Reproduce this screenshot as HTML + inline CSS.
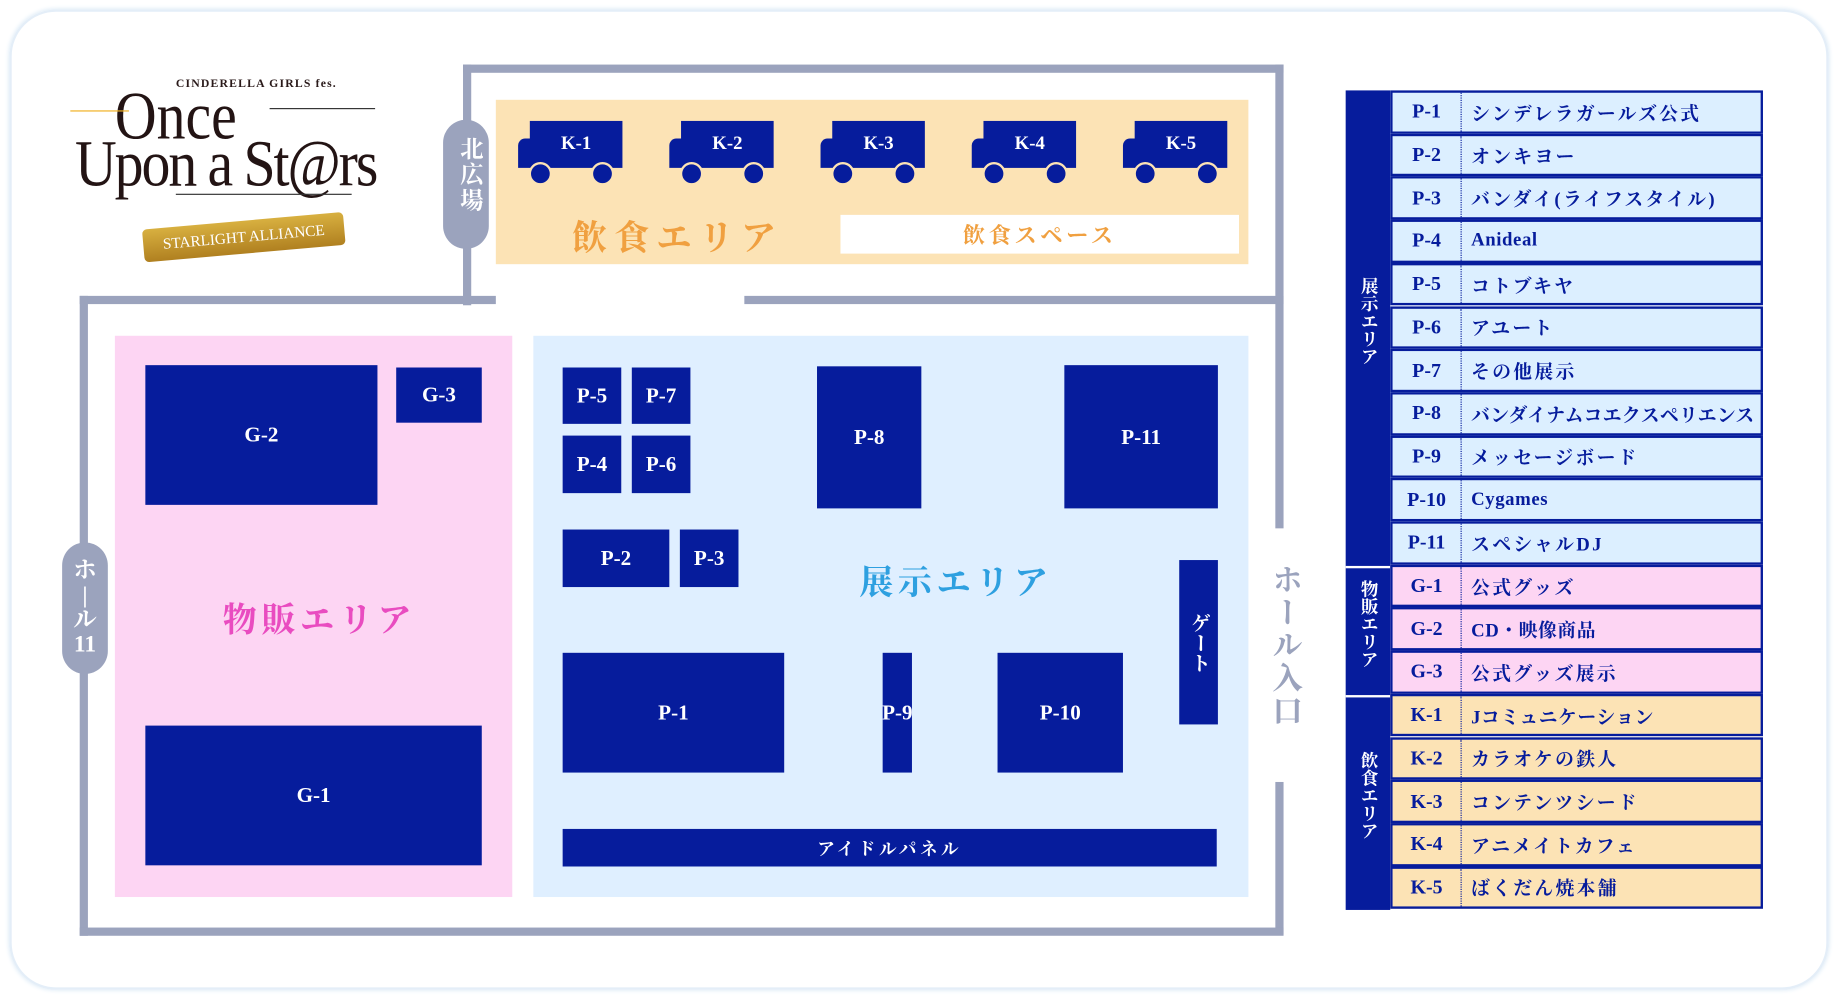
<!DOCTYPE html>
<html><head><meta charset="utf-8">
<style>
html,body{margin:0;padding:0;background:#fff;width:1838px;height:998px;overflow:hidden}
#s{position:absolute;left:0;top:0;width:1568px;height:850px;transform-origin:0 0;transform:scale(1.17219,1.17412);font-family:"Liberation Serif","Noto Serif CJK SC",serif;font-weight:bold}
.a{position:absolute;box-sizing:border-box}
.n{position:absolute;background:#061c9c;color:#fff;display:flex;align-items:center;justify-content:center;font-size:18px}
.w{position:absolute;background:#9ba3bd}
.t{position:absolute;left:1186px;width:318px;height:36.7px;border:2px solid #061c9c;box-sizing:border-box;color:#061c9c;font-size:16px;display:flex;align-items:center}
.t b{width:58px;text-align:center;border-right:1.5px dotted #061c9c;height:100%;display:flex;align-items:center;justify-content:center;font-size:17px}
.t span{padding-left:8px;letter-spacing:2px;white-space:nowrap}
.v{position:absolute;writing-mode:vertical-rl;text-orientation:upright}
</style></head><body><div id="s">
<div class="a" style="left:8px;top:8px;width:1552px;height:835px;border:2px solid #e4eef8;border-radius:40px;box-shadow:0 0 4px #d8e8f5"></div>

<!-- logo -->
<div class="a" style="left:150px;top:66px;font-size:10px;color:#2a1a1a;letter-spacing:1px">CINDERELLA GIRLS fes.</div>
<div class="a" style="left:98px;top:70px;font-family:'Liberation Serif',serif;font-weight:normal;font-size:58px;color:#231414;line-height:1;transform:scaleX(0.85);transform-origin:0 0">Once</div>
<div class="a" style="left:64px;top:112px;font-family:'Liberation Serif',serif;font-weight:normal;font-size:56px;color:#231414;line-height:1;letter-spacing:-2px;transform:scaleX(0.88);transform-origin:0 0;white-space:nowrap">Upon a St@rs</div>
<div class="a" style="left:60px;top:94px;width:50px;height:1px;background:#f0b020"></div>
<div class="a" style="left:230px;top:92px;width:90px;height:1px;background:#333"></div>
<div class="a" style="left:150px;top:165px;width:150px;height:1px;background:#333"></div>
<div class="a" style="left:122px;top:188px;width:172px;height:28px;background:linear-gradient(#d8b040,#b08020);border-radius:4px;transform:rotate(-5deg);color:#fff;font-size:13px;display:flex;align-items:center;justify-content:center;font-weight:normal">STARLIGHT ALLIANCE</div>

<!-- walls -->
<div class="w" style="left:395px;top:55px;width:700px;height:7px"></div>
<div class="w" style="left:395px;top:55px;width:7px;height:205px"></div>
<div class="w" style="left:1088px;top:55px;width:7px;height:395px"></div>
<div class="w" style="left:1088px;top:666px;width:7px;height:130px"></div>
<div class="w" style="left:68px;top:252px;width:355px;height:7px"></div>
<div class="w" style="left:635px;top:252px;width:460px;height:7px"></div>
<div class="w" style="left:68px;top:252px;width:7px;height:545px"></div>
<div class="w" style="left:68px;top:790px;width:1027px;height:7px"></div>
<div class="w" style="left:378px;top:102px;width:39px;height:110px;border-radius:20px;color:#fff;font-size:20px"><div class="v" style="left:8px;top:14px;letter-spacing:2px">北広場</div></div>
<div class="w" style="left:53px;top:462px;width:39px;height:112px;border-radius:20px;color:#fff;font-size:20px;display:flex;flex-direction:column;align-items:center;justify-content:center;line-height:1.05"><span>ホ</span><span>|</span><span>ル</span><span>11</span></div>

<!-- food -->
<div class="a" style="left:423px;top:85px;width:642px;height:140px;background:#fce3b5"></div>
<div class="a" style="left:488px;top:178px;font-size:30px;color:#f0a040;letter-spacing:6px">飲食エリア</div>
<div class="a" style="left:717px;top:183px;width:340px;height:33px;background:#fff;color:#f0a040;font-size:19px;display:flex;align-items:center;justify-content:center;letter-spacing:3px">飲食スペース</div>

<!-- pink -->
<div class="a" style="left:98px;top:286px;width:339px;height:478px;background:#fdd5f3"></div>
<div class="n" style="left:124px;top:311px;width:198px;height:119px">G-2</div>
<div class="n" style="left:338px;top:313px;width:73px;height:47px">G-3</div>
<div class="n" style="left:124px;top:618px;width:287px;height:119px">G-1</div>
<div class="a" style="left:190px;top:506px;font-size:29px;color:#e94cc0;letter-spacing:4px">物販エリア</div>

<!-- blue -->
<div class="a" style="left:455px;top:286px;width:610px;height:478px;background:#dfefff"></div>
<div class="n" style="left:480px;top:313px;width:50px;height:48px">P-5</div>
<div class="n" style="left:539px;top:313px;width:50px;height:48px">P-7</div>
<div class="n" style="left:480px;top:371px;width:50px;height:49px">P-4</div>
<div class="n" style="left:539px;top:371px;width:50px;height:49px">P-6</div>
<div class="n" style="left:697px;top:312px;width:89px;height:121px">P-8</div>
<div class="n" style="left:908px;top:311px;width:131px;height:122px">P-11</div>
<div class="n" style="left:480px;top:451px;width:91px;height:49px">P-2</div>
<div class="n" style="left:580px;top:451px;width:50px;height:49px">P-3</div>
<div class="a" style="left:733px;top:474px;font-size:29px;color:#2ea0e0;letter-spacing:4px">展示エリア</div>
<div class="n" style="left:1006px;top:477px;width:33px;height:140px;font-size:17px"><span style="writing-mode:vertical-rl;text-orientation:upright">ゲート</span></div>
<div class="n" style="left:480px;top:556px;width:189px;height:102px">P-1</div>
<div class="n" style="left:753px;top:556px;width:25px;height:102px;overflow:visible;white-space:nowrap">P-9</div>
<div class="n" style="left:851px;top:556px;width:107px;height:102px">P-10</div>
<div class="n" style="left:480px;top:706px;width:558px;height:32px;font-size:15px;letter-spacing:3px">アイドルパネル</div>
<div class="v" style="left:1078px;top:480px;font-size:26px;color:#9ba3bd;font-weight:bold;letter-spacing:2px">ホール入口</div>

<!-- table -->
<div class="a" style="left:1148px;top:77px;width:38px;height:698px;background:#061c9c"></div>
<div class="a" style="left:1148px;top:482px;width:38px;height:2px;background:#fff"></div>
<div class="a" style="left:1148px;top:592px;width:38px;height:2px;background:#fff"></div>
<div class="v" style="left:1157px;top:236px;color:#fff;font-size:15px">展示エリア</div>
<div class="v" style="left:1157px;top:494px;color:#fff;font-size:15px">物販エリア</div>
<div class="v" style="left:1157px;top:640px;color:#fff;font-size:15px">飲食エリア</div>
<div id="tb"></div>

<!-- trucks -->
<div id="tr"></div>
</div>
<script>
var rows=[["P-1","シンデレラガールズ公式"],["P-2","オンキヨー"],["P-3","バンダイ(ライフスタイル)"],["P-4","Anideal"],["P-5","コトブキヤ"],["P-6","アユート"],["P-7","その他展示"],["P-8","バンダイナムコエクスペリエンス"],["P-9","メッセージボード"],["P-10","Cygames"],["P-11","スペシャルDJ"],["G-1","公式グッズ"],["G-2","CD・映像商品"],["G-3","公式グッズ展示"],["K-1","Jコミュニケーション"],["K-2","カラオケの鉄人"],["K-3","コンテンツシード"],["K-4","アニメイトカフェ"],["K-5","ばくだん焼本舗"]];
var h="";rows.forEach(function(r,i){var c=r[0][0]=="P"?"#dcefff":r[0][0]=="G"?"#fdd5f3":"#fce3b5";
var ls=r[0]=="P-8"?"0.3px":(/^[A-Za-z]/.test(r[1])?"0.5px":"2px");
h+='<div class="t" style="top:'+(77+i*36.7)+'px;background:'+c+'"><b>'+r[0]+'</b><span style="letter-spacing:'+ls+'">'+r[1]+'</span></div>';});
document.getElementById("tb").outerHTML=h;
var t="";[442,571,700,829,958].forEach(function(x,i){
t+='<div class="n" style="left:'+(x+10)+'px;top:103px;width:79px;height:40px;font-size:16px">K-'+(i+1)+'</div>';
t+='<div class="a" style="left:'+x+'px;top:118px;width:14px;height:25px;background:#061c9c;border-radius:6px 0 0 0"></div>';
t+='<div class="a" style="left:'+(x+9)+'px;top:138px;width:20px;height:20px;border-radius:50%;background:#061c9c;border:2px solid #fce3b5"></div>';
t+='<div class="a" style="left:'+(x+62)+'px;top:138px;width:20px;height:20px;border-radius:50%;background:#061c9c;border:2px solid #fce3b5"></div>';});
document.getElementById("tr").outerHTML=t;
</script>
</body></html>
